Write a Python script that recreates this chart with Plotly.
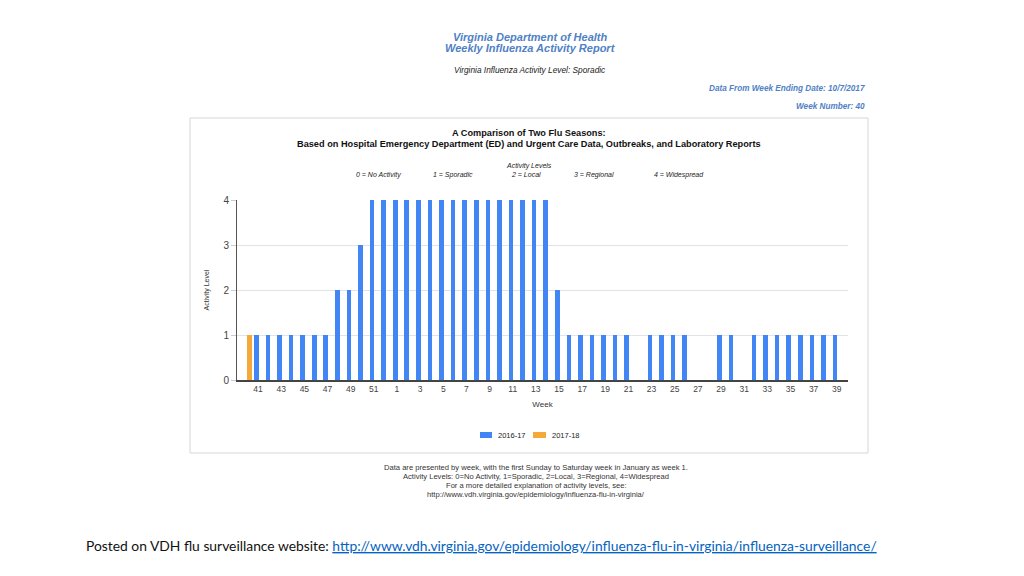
import plotly.graph_objects as go

# ---------------- data ----------------
weeks = list(range(40, 53)) + list(range(1, 40))
season_2016_17 = [None,
                  1, 1, 1, 1, 1, 1, 1,          # 41-47
                  2, 2, 3,                      # 48-50
                  4, 4,                         # 51-52
                  4, 4, 4, 4, 4, 4, 4, 4, 4, 4, 4, 4, 4, 4,   # 1-14
                  2,                            # 15
                  1, 1, 1, 1, 1, 1,             # 16-21
                  0,                            # 22
                  1, 1, 1, 1,                   # 23-26
                  0, 0,                         # 27-28
                  1, 1,                         # 29-30
                  0,                            # 31
                  1, 1, 1, 1, 1, 1, 1, 1]       # 32-39
season_2017_18 = [1] + [None] * 51
season_names = ["2016-17", "2017-18"]
tick_weeks = [w for w in weeks if w % 2 == 1]
y_ticks = [0, 1, 2, 3, 4]

# ---------------- layout helpers ----------------
OFF = 8                      # page body margin in the browser
W, H = 1024 - OFF, 576 - OFF
L, R, T, B = 237, 848, 200, 380   # plot area in reference pixels


def px(x):
    return (x - L) / (R - L)


def py(y):
    return (B - y) / (B - T)


pos = list(range(len(weeks)))
BLUE = "#4285f4"
ORANGE = "#f6a93b"
FONT = "Liberation Sans, Arial, sans-serif"

fig = go.Figure()
fig.add_trace(go.Bar(x=pos, y=season_2016_17, name=season_names[0], marker_color=BLUE,
                     width=0.4, offset=-0.2, marker_line_width=0, showlegend=False))
fig.add_trace(go.Bar(x=pos, y=season_2017_18, name=season_names[1], marker_color=ORANGE,
                     width=0.43, offset=0.2, marker_line_width=0, showlegend=False))

ann = []


def text(x, y, s, size, color="#222", anchor="center", bold=False, italic=False, family=FONT):
    if bold:
        s = "<b>" + s + "</b>"
    if italic:
        s = "<i>" + s + "</i>"
    ann.append(dict(x=px(x), y=py(y), xref="paper", yref="paper", text=s, showarrow=False,
                    xanchor=anchor, yanchor="middle", font=dict(size=size, color=color, family=family)))


HB = "#4f81c4"
text(530, 37, "Virginia Department of Health", 11, HB, bold=True, italic=True)
text(530, 48, "Weekly Influenza Activity Report", 11, HB, bold=True, italic=True)
text(530, 70, "Virginia Influenza Activity Level: Sporadic", 8.3, "#222", italic=True)
text(867, 88, "Data From Week Ending Date: 10/7/2017", 8.2, HB, anchor="right", bold=True, italic=True)
text(867, 106, "Week Number: 40", 8.2, HB, anchor="right", bold=True, italic=True)

text(529, 133, "A Comparison of Two Flu Seasons:", 9.2, "#111", bold=True)
text(529, 144, "Based on Hospital Emergency Department (ED) and Urgent Care Data, Outbreaks, and Laboratory Reports", 9.2, "#111", bold=True)
text(529, 165.5, "Activity Levels", 7, "#222", italic=True)
for xc, s in [(378, "0 = No Activity"), (453, "1 = Sporadic"), (526, "2 = Local"),
              (594, "3 = Regional"), (679, "4 = Widespread")]:
    text(xc, 174.5, s, 7, "#222", italic=True)

foot = ["Data are presented by week, with the first Sunday to Saturday week in January as week 1.",
        "Activity Levels: 0=No Activity, 1=Sporadic, 2=Local, 3=Regional, 4=Widespread",
        "For a more detailed explanation of activity levels, see:",
        "http://www.vdh.virginia.gov/epidemiology/influenza-flu-in-virginia/"]
for i, s in enumerate(foot):
    text(536, 467 + i * 9, s, 7.6, "#333")

text(84, 545, "Posted on VDH flu surveillance website: "
     "<span style='color:#0563c1'><u>http://www.vdh.virginia.gov/epidemiology/influenza-flu-in-virginia/influenza-surveillance/</u></span>",
     13.85, "#111", anchor="left", family="Lato, sans-serif")

# legend (drawn to match the reference's compact swatches)
shapes = [dict(type="rect", xref="paper", yref="paper", x0=px(190), x1=px(868), y0=py(453), y1=py(118),
               line=dict(color="#d6d6d6", width=1), fillcolor="rgba(0,0,0,0)", layer="below")]
for (sx0, sx1, tx), col, name in zip([(480, 492, 496), (533, 546, 550)], [BLUE, ORANGE], season_names):
    shapes.append(dict(type="rect", xref="paper", yref="paper", x0=px(sx0), x1=px(sx1),
                       y0=py(438), y1=py(432), line=dict(width=0), fillcolor=col))
    text(tx, 435, name, 7.5, "#222", anchor="left")

fig.update_layout(
    width=W, height=H, autosize=False,
    margin=dict(l=L - OFF, r=W - (R - OFF), t=T - OFF, b=H - (B - OFF), pad=0),
    paper_bgcolor="white", plot_bgcolor="white",
    barmode="overlay", bargap=0,
    font=dict(family=FONT, size=8, color="#444"),
    showlegend=False,
    annotations=ann, shapes=shapes,
    xaxis=dict(range=[-0.67, 52.12], tickmode="array",
               tickvals=[weeks.index(w) + 0.15 for w in tick_weeks], ticktext=[str(w) for w in tick_weeks],
               showgrid=False, zeroline=False, showline=True, linecolor="#444", linewidth=1.5,
               ticks="", tickfont=dict(size=8.5, color="#444"),
               title=dict(text="Week", font=dict(size=8, color="#333"), standoff=8)),
    yaxis=dict(range=[0, 4], tickmode="array", tickvals=y_ticks, showgrid=True, gridcolor="#e3e3e3",
               zeroline=False, showline=True, linecolor="#555", linewidth=1,
               ticks="outside", ticklen=5, tickcolor="#cccccc", tickfont=dict(size=10, color="#444"),
               title=dict(text="Activity Level", font=dict(size=7, color="#333"), standoff=12)),
)

fig.write_html("out.html")
